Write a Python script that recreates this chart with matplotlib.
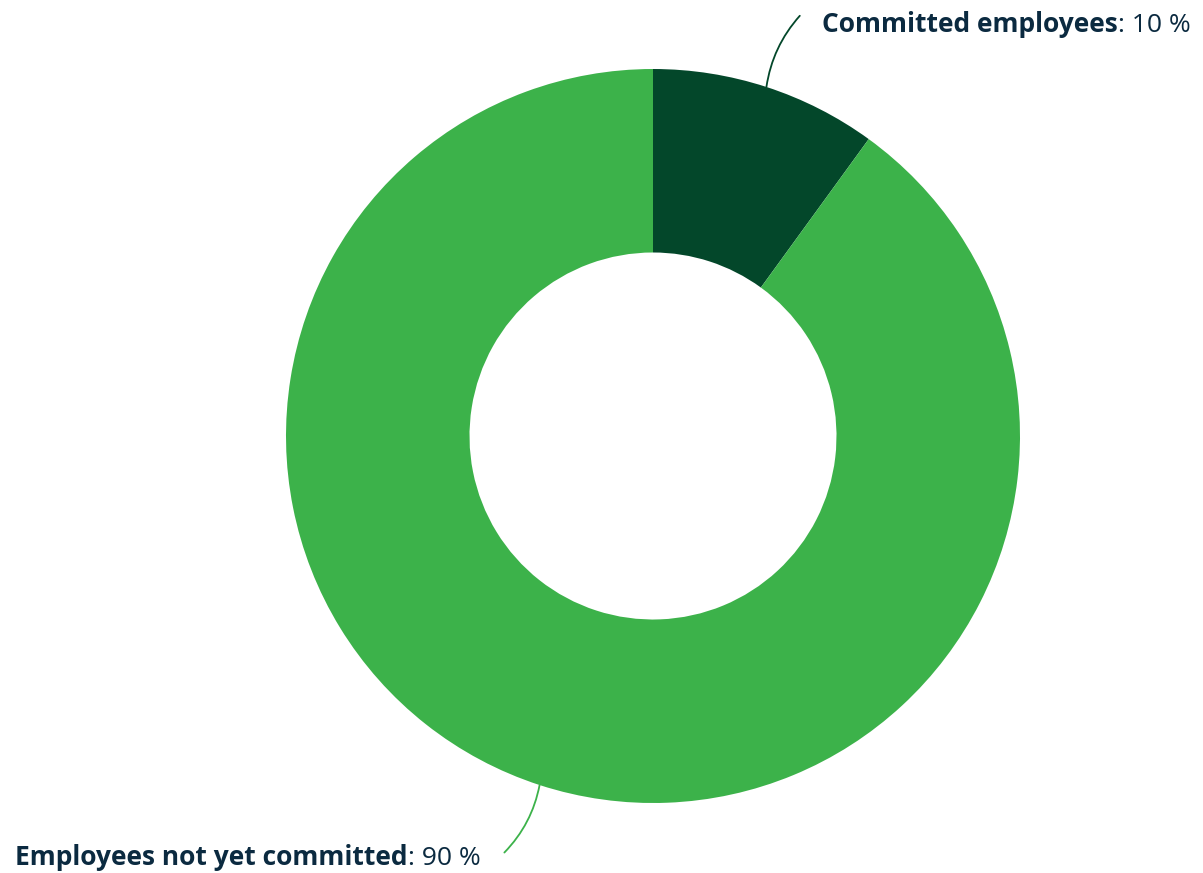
import matplotlib.pyplot as plt
import numpy as np

# Share of employees
labels = ["Committed employees", "Employees not yet committed"]
values = [10, 90]
colors = ["#03472a", "#3cb24a"]
text_color = "#0b2a40"

plt.rcParams["font.family"] = ["Open Sans", "DejaVu Sans"]

fig = plt.figure(figsize=(12.03, 8.73), dpi=100)
# axes placed so the ring sits centred at (653, 436) px with a 367 px radius
ax = fig.add_axes([(653 - 367) / 1203, (873 - 436 - 367) / 873, 734 / 1203, 734 / 873])
ax.pie(values, colors=colors, startangle=90, counterclock=False, radius=1,
       wedgeprops=dict(width=0.5, linewidth=0))
ax.set_xlim(-1, 1)
ax.set_ylim(-1, 1)
ax.set_aspect("equal")
ax.axis("off")

# Label anchors (data units), where the connector ends, and text side
label_pos = [(0.46, 1.122), (-0.47, -1.15)]
line_end = [(0.40, 1.145), (-0.405, -1.135)]
label_ha = ["left", "right"]
fs = 19

start = 90.0
for lab, val, col, pos, end, ha in zip(labels, values, colors, label_pos, line_end, label_ha):
    mid = np.deg2rad(start - val * 3.6 / 2)
    start -= val * 3.6
    tip = (np.cos(mid), np.sin(mid))
    ax.annotate("", xy=tip, xytext=end, annotation_clip=False,
                arrowprops=dict(arrowstyle="-", color=col, lw=1.3,
                                shrinkA=0, shrinkB=0,
                                connectionstyle="arc3,rad=0.15"))
    suffix = f": {val} %"
    if ha == "left":
        t = ax.text(pos[0], pos[1], lab, ha="left", va="center", fontsize=fs,
                    fontweight="bold", color=text_color, clip_on=False)
        ax.annotate(suffix, xy=(1, 0), xycoords=t, ha="left", va="bottom",
                    fontsize=fs, color=text_color, annotation_clip=False)
    else:
        # regular suffix sits at the right end, bold name to its left
        s = ax.text(pos[0], pos[1], suffix, ha="right", va="center", fontsize=fs,
                    color=text_color, clip_on=False)
        ax.annotate(lab, xy=(0, 0), xycoords=s, ha="right", va="bottom",
                    fontsize=fs, fontweight="bold", color=text_color,
                    annotation_clip=False)

fig.savefig("out.png", dpi=100, facecolor="white")
